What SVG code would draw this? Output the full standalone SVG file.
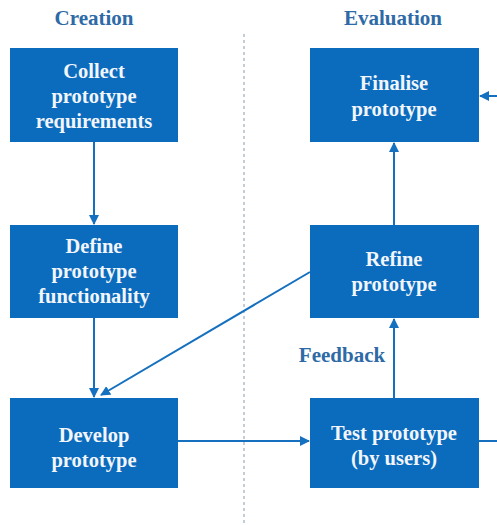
<svg xmlns="http://www.w3.org/2000/svg" width="497" height="525" viewBox="0 0 497 525">
<style>
.box{fill:#0b6bbd}
.bt{font-family:"Liberation Serif",serif;font-weight:bold;font-size:20.5px;fill:#f2f6fb;text-anchor:middle}
.hd{font-family:"Liberation Serif",serif;font-weight:bold;font-size:21px;fill:#2e6aa6;text-anchor:middle}
.ln{stroke:#1570bf;stroke-width:2;fill:none}
</style>
<defs>
<marker id="ah" viewBox="0 0 10 10" refX="9" refY="5" markerWidth="10" markerHeight="10" markerUnits="userSpaceOnUse" orient="auto">
<path d="M0,0 L10,5 L0,10 z" fill="#1570bf"/>
</marker>
</defs>
<rect width="497" height="525" fill="#ffffff"/>
<text class="hd" x="94" y="25">Creation</text>
<text class="hd" x="393" y="25">Evaluation</text>
<line x1="244" y1="34" x2="244" y2="525" stroke="#8a9aab" stroke-width="1" stroke-dasharray="3,3"/>
<g id="connectors">
<line class="ln" x1="94" y1="142" x2="94" y2="224" marker-end="url(#ah)"/>
<line class="ln" x1="94" y1="318" x2="94" y2="397" marker-end="url(#ah)"/>
<line class="ln" x1="310" y1="272" x2="101" y2="395" marker-end="url(#ah)"/>
<line class="ln" x1="178" y1="441" x2="309" y2="441" marker-end="url(#ah)"/>
<line class="ln" x1="479" y1="441" x2="497" y2="441"/>
<line class="ln" x1="394" y1="398" x2="394" y2="319" marker-end="url(#ah)"/>
<line class="ln" x1="394" y1="225" x2="394" y2="143" marker-end="url(#ah)"/>
<line class="ln" x1="497" y1="96" x2="480" y2="96" marker-end="url(#ah)"/>
<text class="hd" x="342" y="362">Feedback</text>
</g>
<g id="collect"><rect class="box" x="10" y="48" width="168" height="94"/>
<text class="bt" x="94" y="78">Collect</text><text class="bt" x="94" y="103">prototype</text><text class="bt" x="94" y="128">requirements</text></g>
<g id="define"><rect class="box" x="10" y="225" width="168" height="93"/>
<text class="bt" x="94" y="253">Define</text><text class="bt" x="94" y="278">prototype</text><text class="bt" x="94" y="303">functionality</text></g>
<g id="develop"><rect class="box" x="10" y="398" width="168" height="90"/>
<text class="bt" x="94" y="442">Develop</text><text class="bt" x="94" y="467">prototype</text></g>
<g id="finalise"><rect class="box" x="310" y="48" width="169" height="94"/>
<text class="bt" x="394" y="90">Finalise</text><text class="bt" x="394" y="116">prototype</text></g>
<g id="refine"><rect class="box" x="310" y="225" width="169" height="93"/>
<text class="bt" x="394" y="266">Refine</text><text class="bt" x="394" y="291">prototype</text></g>
<g id="test"><rect class="box" x="310" y="398" width="169" height="90"/>
<text class="bt" x="394" y="440">Test prototype</text><text class="bt" x="394" y="465">(by users)</text></g>
</svg>
